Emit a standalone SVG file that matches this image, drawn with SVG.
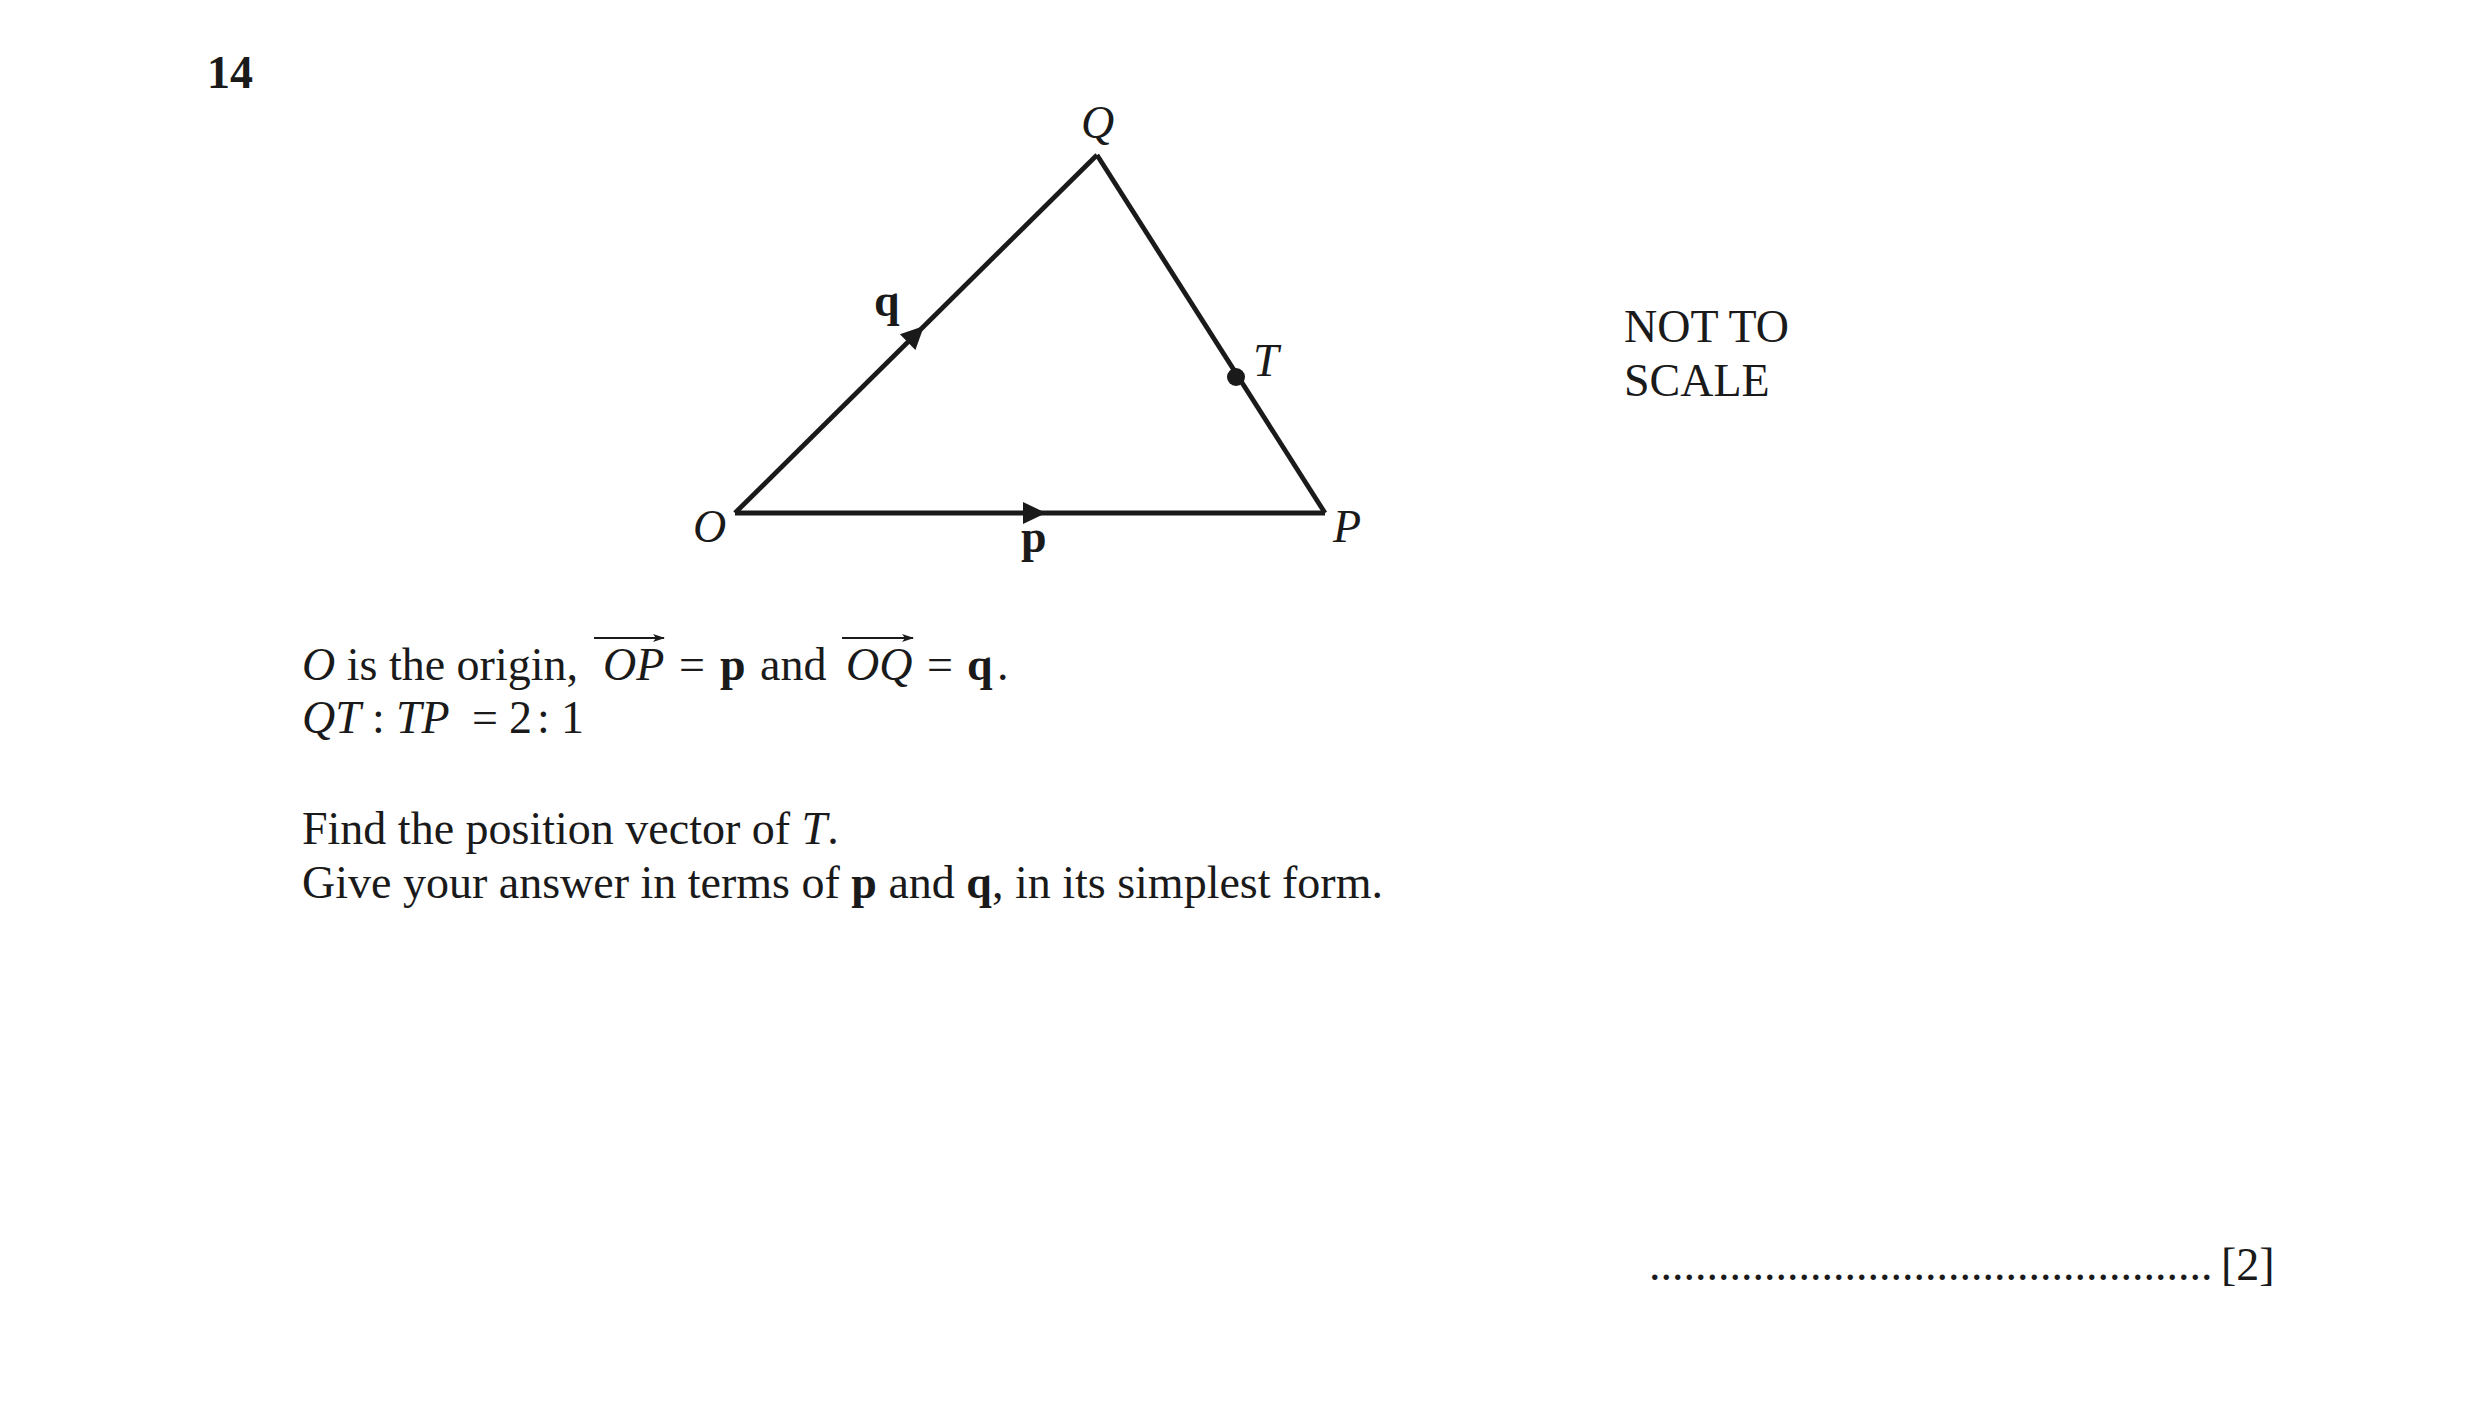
<svg xmlns="http://www.w3.org/2000/svg" width="2481" height="1410" viewBox="0 0 2481 1410">
<style>
.t{font-family:"Liberation Serif","Times New Roman",serif;font-size:46px;fill:#1a1a1a}
.i{font-style:italic}
.b{font-weight:bold}
.edge{stroke:#1a1a1a;stroke-width:4.8;fill:none;stroke-linejoin:miter}
.vec{stroke:#1a1a1a;stroke-width:2;fill:none}
</style>
<defs>
<path id="ah" d="M0,0 L-23,-11 L-23,11 Z" fill="#1a1a1a"/>
<marker id="vm" markerWidth="12" markerHeight="8" refX="11" refY="4" orient="auto" markerUnits="userSpaceOnUse">
<path d="M0,0 L12,4 L0,8 L3,4 Z" fill="#1a1a1a"/>
</marker>
</defs>
<rect width="2481" height="1410" fill="#ffffff"/>
<text class="t b" x="207" y="88" font-size="44">14</text>
<g id="connectors">
<path id="edge-OQ" class="edge" d="M735,513 L1097,155"/>
<path id="edge-QP" class="edge" d="M1097,155 L1325,513"/>
<path id="edge-OP" class="edge" d="M735,513 L1325,513"/>
<use href="#ah" transform="translate(1046,513)"/>
<use href="#ah" transform="translate(924,326) rotate(-44.7)"/>
<text class="t b" x="874" y="316">q</text>
<text class="t b" x="1021" y="552">p</text>
</g>
<g id="node-O"><text class="t i" x="693" y="542">O</text></g>
<g id="node-Q"><text class="t i" x="1081" y="138">Q</text></g>
<g id="node-P"><text class="t i" x="1333" y="542">P</text></g>
<g id="node-T">
<circle cx="1236" cy="377" r="9" fill="#1a1a1a"/>
<text class="t i" x="1253" y="376">T</text>
</g>
<g id="note">
<text class="t" x="1624" y="342">NOT TO</text>
<text class="t" x="1624" y="396">SCALE</text>
</g>
<g id="question">
<text class="t" y="680"><tspan x="302" class="i">O</tspan> is the origin,<tspan x="603" class="i">OP</tspan><tspan x="679">=</tspan><tspan x="720" class="b">p</tspan><tspan x="760">and</tspan><tspan x="846" class="i">OQ</tspan><tspan x="927">=</tspan><tspan x="967" class="b">q</tspan><tspan x="997">.</tspan></text>
<line class="vec" x1="594" y1="638" x2="664" y2="638" marker-end="url(#vm)"/>
<line class="vec" x1="842" y1="638" x2="913" y2="638" marker-end="url(#vm)"/>
<text class="t" y="733"><tspan x="302" class="i">QT</tspan><tspan x="372">:</tspan><tspan x="396" class="i">TP</tspan><tspan x="472">=</tspan><tspan x="509">2</tspan><tspan x="537">:</tspan><tspan x="561">1</tspan></text>
<text class="t" x="302" y="844">Find the position vector of <tspan class="i">T</tspan>.</text>
<text class="t" x="302" y="898">Give your answer in terms of <tspan class="b">p</tspan> and <tspan class="b">q</tspan>, in its simplest form.</text>
</g>
<g id="answer">
<text class="t" x="1649" y="1280">.................................................</text>
<text class="t" x="2221" y="1280">[2]</text>
</g>
</svg>
